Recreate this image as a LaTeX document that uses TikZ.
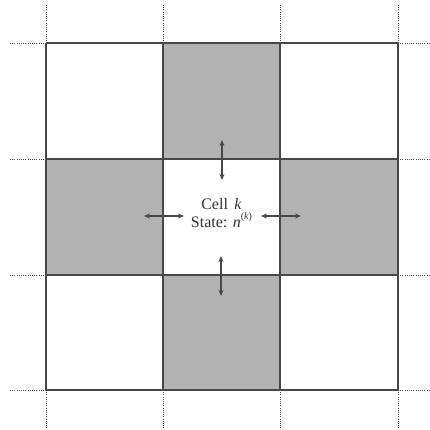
\documentclass[tikz,border=0pt]{standalone}
\usepackage{fontspec}
\setmainfont{Liberation Serif}
\usetikzlibrary{arrows.meta}
\definecolor{cellgray}{gray}{0.70}
\definecolor{linegray}{gray}{0.28}
\tikzset{
  gridline/.style={draw=linegray, line width=1.3pt},
  dotline/.style={draw=linegray, line width=0.8pt, dash pattern=on 1pt off 1.2pt},
  shaded/.style={fill=cellgray, draw=none},
  exch/.style={draw=linegray, line width=1.1pt, {Stealth[length=6pt,width=5pt]}-{Stealth[length=6pt,width=5pt]}},
  label/.style={align=center, font=\fontsize{16}{18}\selectfont, text=black!80, inner sep=0pt}
}
\begin{document}
\begin{tikzpicture}[x=1pt,y=-1pt]
\useasboundingbox (0,0) rectangle (430,430);
% shaded neighbour cells
\path[shaded] (163,43) rectangle (280,159);
\path[shaded] (46,159) rectangle (163,275);
\path[shaded] (280,159) rectangle (398,275);
\path[shaded] (163,275) rectangle (280,390);
% grid lines
\foreach \x in {46,163,280,398} {
  \draw[gridline] (\x,43) -- (\x,390);
  \draw[dotline] (\x,5) -- (\x,43);
  \draw[dotline] (\x,390) -- (\x,430);
}
\foreach \y in {43,159,275,390} {
  \draw[gridline] (46,\y) -- (398,\y);
  \draw[dotline] (10,\y) -- (46,\y);
  \draw[dotline] (398,\y) -- (430,\y);
}
% centre label
\node[label] (cell) at (221.5,213) {Cell\hspace{0.4em}\textit{k}\\State: \textit{n}\raisebox{0.5em}{\fontsize{10}{10}\selectfont(\textit{k})}};
% exchange arrows
\coordinate (t1) at (222,140); \coordinate (t2) at (222,180);
\coordinate (b1) at (221,256); \coordinate (b2) at (221,296);
\coordinate (l1) at (144,216); \coordinate (l2) at (184,216);
\coordinate (r1) at (261,216); \coordinate (r2) at (301,216);
\draw[exch] (t1) -- (t2);
\draw[exch] (b1) -- (b2);
\draw[exch] (l1) -- (l2);
\draw[exch] (r1) -- (r2);
\end{tikzpicture}
\end{document}
